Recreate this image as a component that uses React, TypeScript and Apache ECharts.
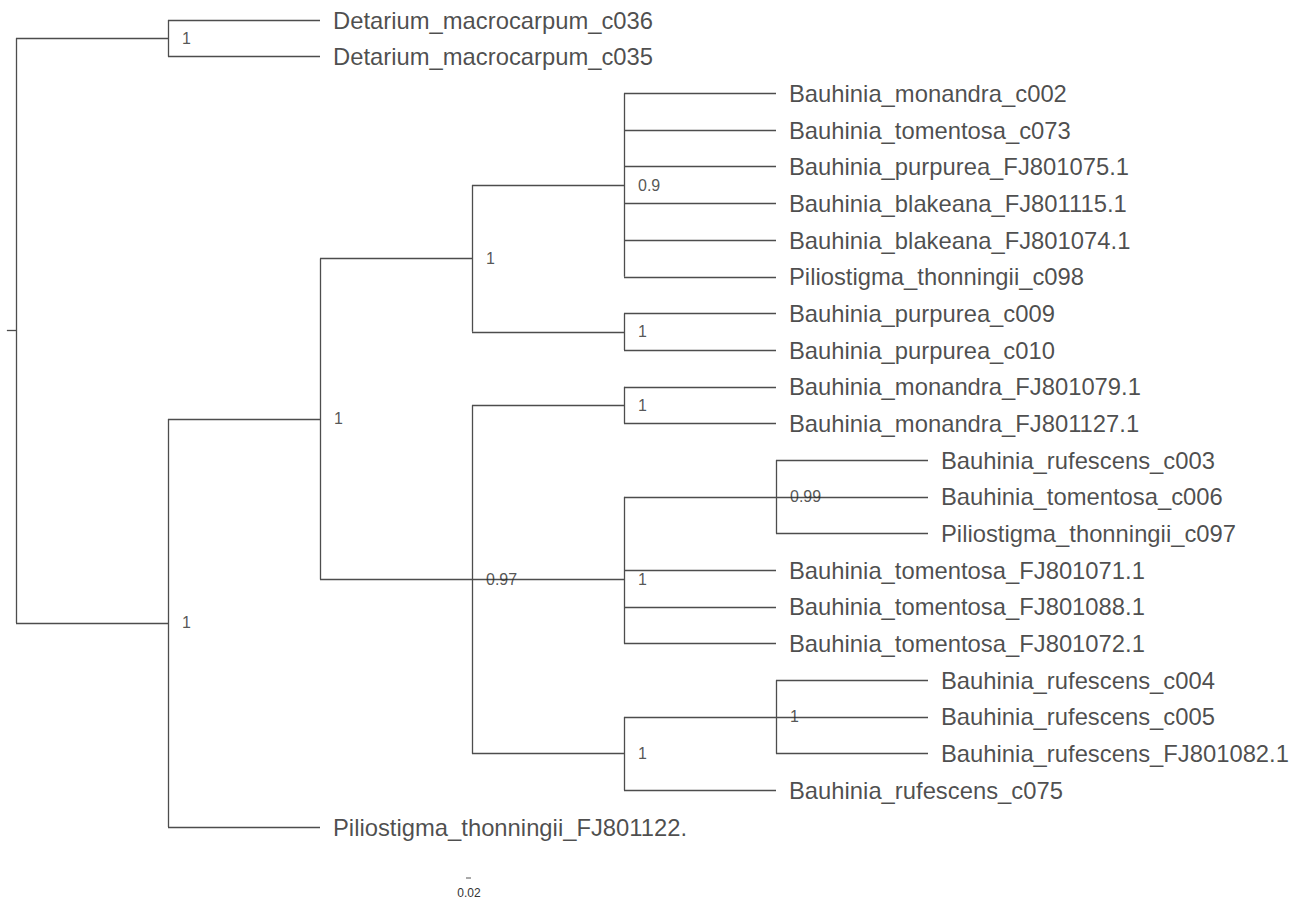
import React, { useEffect, useRef } from "react";
import * as echarts from "echarts";

// Leaf (tip) labels, top to bottom
const leaves: string[] = [
  "Detarium_macrocarpum_c036",
  "Detarium_macrocarpum_c035",
  "Bauhinia_monandra_c002",
  "Bauhinia_tomentosa_c073",
  "Bauhinia_purpurea_FJ801075.1",
  "Bauhinia_blakeana_FJ801115.1",
  "Bauhinia_blakeana_FJ801074.1",
  "Piliostigma_thonningii_c098",
  "Bauhinia_purpurea_c009",
  "Bauhinia_purpurea_c010",
  "Bauhinia_monandra_FJ801079.1",
  "Bauhinia_monandra_FJ801127.1",
  "Bauhinia_rufescens_c003",
  "Bauhinia_tomentosa_c006",
  "Piliostigma_thonningii_c097",
  "Bauhinia_tomentosa_FJ801071.1",
  "Bauhinia_tomentosa_FJ801088.1",
  "Bauhinia_tomentosa_FJ801072.1",
  "Bauhinia_rufescens_c004",
  "Bauhinia_rufescens_c005",
  "Bauhinia_rufescens_FJ801082.1",
  "Bauhinia_rufescens_c075",
  "Piliostigma_thonningii_FJ801122.",
];

// Internal nodes (clades). Children: numbers = leaf index, strings = clade name
const cladeNames: string[] = ["root", "det", "A", "B", "C", "E", "F", "D", "G", "H", "J", "I", "K"];
const cladeChildren: (number | string)[][] = [
  ["det", "A"],
  [0, 1],
  ["B", 22],
  ["C", "D"],
  ["E", "F"],
  [2, 3, 4, 5, 6, 7],
  [8, 9],
  ["G", "H", "I"],
  [10, 11],
  ["J", 15, 16, 17],
  [12, 13, 14],
  ["K", 21],
  [18, 19, 20],
];
const cladeSupport: string[] = ["", "1", "1", "1", "1", "0.9", "1", "0.97", "1", "1", "0.99", "1", "1"];

const scaleBarLabel = "0.02";

const FONT = "'Liberation Sans', Arial, sans-serif";

export default function App() {
  const ref = useRef<HTMLDivElement>(null);
  useEffect(() => {
    if (!ref.current) return;
    const chart = echarts.init(ref.current, undefined, { renderer: "svg" });

    // Layout: depth for x, mean of children for y
    const leafX: number[] = new Array(leaves.length).fill(0);
    const cladeX: Record<string, number> = {};
    const cladeY: Record<string, number> = {};
    const segs: number[][][] = [];
    const idx = (n: string) => cladeNames.indexOf(n);
    const place = (name: string, depth: number): number => {
      cladeX[name] = depth;
      const kids = cladeChildren[idx(name)];
      const ys: number[] = [];
      kids.forEach((k) => {
        if (typeof k === "number") {
          leafX[k] = depth + 1;
          ys.push(k);
        } else {
          ys.push(place(k, depth + 1));
        }
      });
      const y = ys.reduce((a, b) => a + b, 0) / ys.length;
      cladeY[name] = y;
      segs.push([[depth, Math.min(...ys)], [depth, Math.max(...ys)]]);
      kids.forEach((k, i) => {
        segs.push([[depth, ys[i]], [depth + 1, ys[i]]]);
      });
      return y;
    };
    place("root", 0);
    segs.push([[-0.06, cladeY["root"]], [0, cladeY["root"]]]);

    const leafData = leaves.map((n, i) => ({ value: [leafX[i], i], name: n }));
    const nodeData = cladeNames
      .map((n, i) => ({ value: [cladeX[n], cladeY[n]], name: cladeSupport[i] }))
      .filter((d) => d.name !== "");

    chart.setOption({
      animation: false,
      grid: { left: 16, right: 367, top: 20, bottom: 74 },
      xAxis: { type: "value", min: 0, max: 6, show: false },
      yAxis: { type: "value", min: 0, max: 22, inverse: true, show: false },
      series: [
        {
          type: "lines",
          coordinateSystem: "cartesian2d",
          clip: false,
          lineStyle: { color: "#4d4d4d", width: 1.3, opacity: 1 },
          data: segs.map((c) => ({ coords: c })),
          silent: true,
          z: 1,
        },
        {
          type: "scatter",
          symbolSize: 0,
          clip: false,
          itemStyle: { color: "#222" },
          data: leafData,
          label: {
            show: true,
            position: "right",
            distance: 13,
            formatter: (p: any) => p.name,
            fontFamily: FONT,
            fontSize: 23.8,
            color: "#1e1e1e",
            textBorderWidth: 0,
          },
          silent: true,
          z: 2,
        },
        {
          type: "scatter",
          symbolSize: 0,
          clip: false,
          itemStyle: { color: "#333" },
          data: nodeData,
          label: {
            show: true,
            position: "right",
            distance: 14,
            formatter: (p: any) => p.name,
            fontFamily: FONT,
            fontSize: 16,
            color: "#2a2a2a",
            textBorderWidth: 0,
          },
          silent: true,
          z: 2,
        },
      ],
      graphic: [
        { type: "line", shape: { x1: 466, y1: 878, x2: 471, y2: 878 }, style: { stroke: "#555", lineWidth: 1 } },
        {
          type: "text",
          x: 469,
          y: 893,
          style: {
            text: scaleBarLabel,
            fontSize: 12,
            fontFamily: FONT,
            fill: "#333",
            align: "center",
            verticalAlign: "middle",
          },
        },
      ],
    });
    return () => chart.dispose();
  }, []);
  return (
    <div
      ref={ref}
      style={{ position: "fixed", left: 0, top: 0, width: 1295, height: 901, background: "#fff" }}
    />
  );
}
